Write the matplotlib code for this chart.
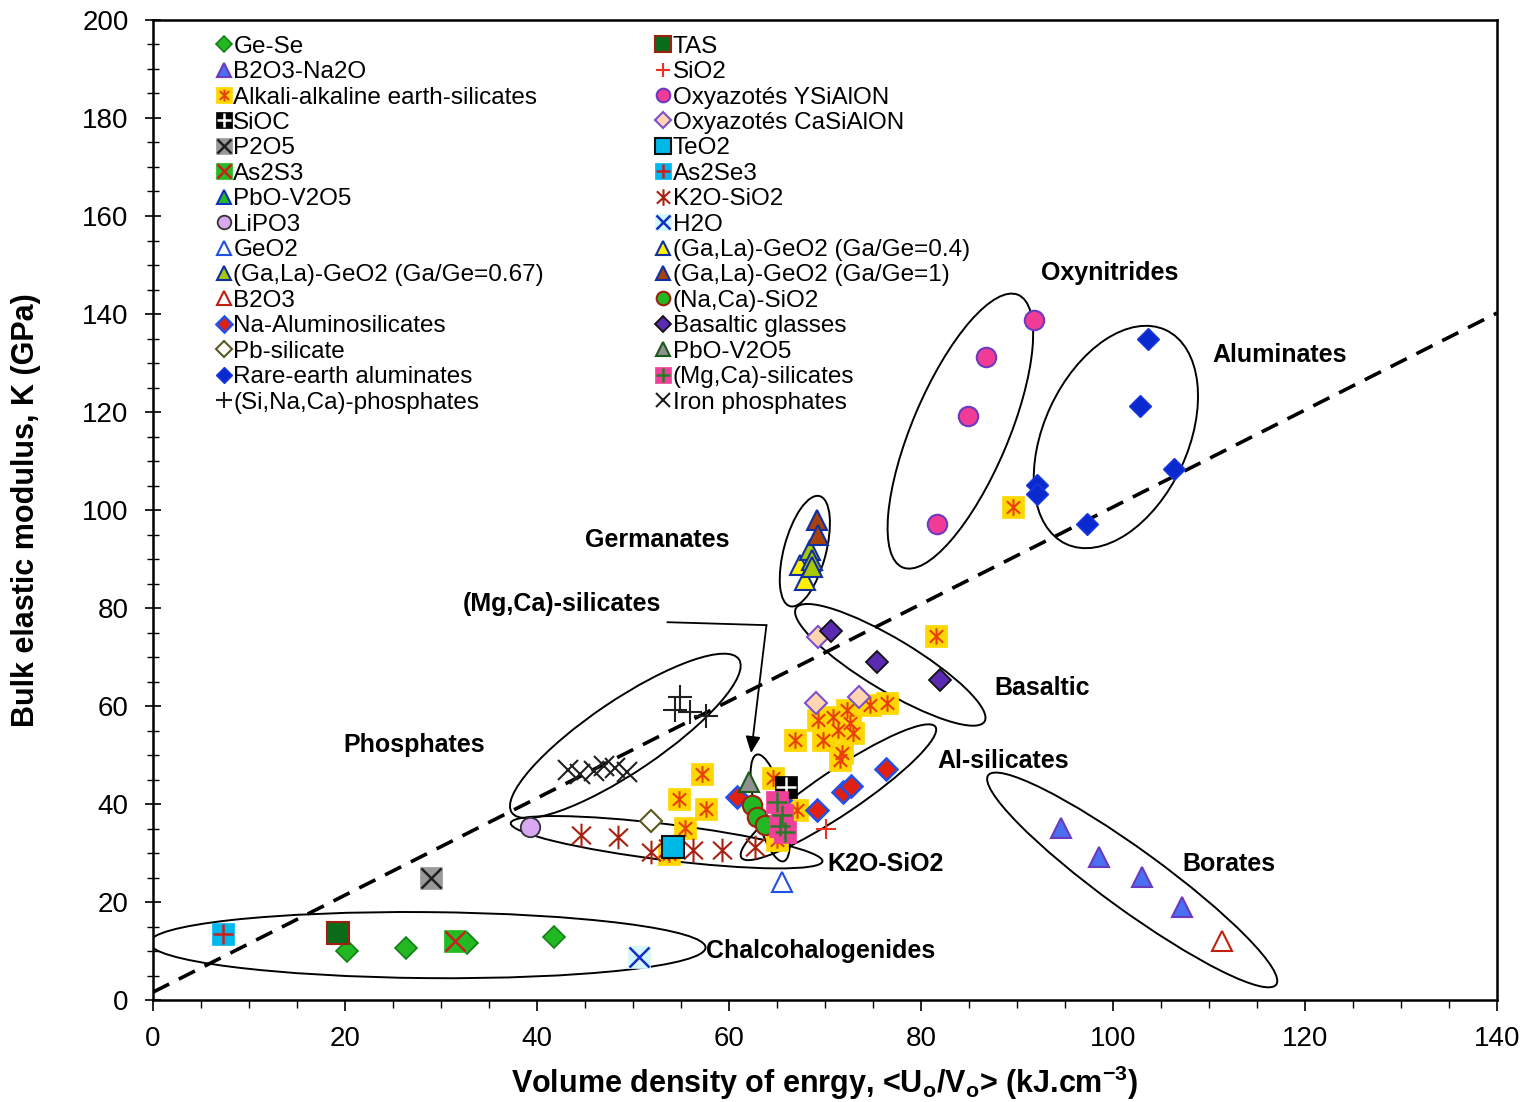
import matplotlib
matplotlib.use("Agg")
import matplotlib.pyplot as plt
from matplotlib.path import Path
from matplotlib.patches import Ellipse
from matplotlib.transforms import ScaledTranslation
from matplotlib.ticker import MultipleLocator

plt.rcParams['font.family'] = ['Liberation Sans', 'DejaVu Sans']
plt.rcParams['mathtext.fontset'] = 'custom'
plt.rcParams['mathtext.rm'] = 'Liberation Sans'
plt.rcParams['mathtext.bf'] = 'Liberation Sans:bold'

# ---------------- data ----------------
ge_se_x = [20.2, 26.4, 32.7, 41.8]
ge_se_y = [10.0, 10.6, 11.6, 12.9]
tas_x = [19.3]; tas_y = [13.7]
as2se3_x = [7.3]; as2se3_y = [13.5]
as2s3_x = [31.5]; as2s3_y = [12.0]
h2o_x = [50.6]; h2o_y = [8.8]
p2o5_x = [29.0]; p2o5_y = [24.9]
lipo3_x = [39.3]; lipo3_y = [35.3]
pbsil_x = [51.9]; pbsil_y = [36.5]
teo2_x = [54.2]; teo2_y = [31.2]
k2o_x = [44.6, 48.4, 51.9, 53.6, 56.3, 59.3, 62.7]
k2o_y = [33.7, 33.3, 30.2, 31.0, 30.6, 30.6, 31.2]
fephos_x = [43.2, 44.5, 45.9, 47.0, 48.1, 49.4]
fephos_y = [46.9, 46.1, 46.7, 47.8, 47.4, 46.5]
sinaca_x = [54.9, 54.4, 55.9, 57.6]
sinaca_y = [61.8, 59.2, 58.8, 58.0]
alk_x = [89.6, 81.6, 66.9, 57.2, 54.8, 57.6, 55.4, 53.8, 64.6, 67.1, 69.3, 69.8,
         70.8, 71.4, 71.8, 72.3, 72.6, 72.9, 74.7, 76.5, 71.6, 65.0]
alk_y = [100.6, 74.3, 53.1, 46.1, 41.0, 39.0, 35.1, 29.8, 45.3, 38.8, 57.1, 53.1,
         57.8, 55.1, 50.4, 59.2, 56.5, 54.5, 60.2, 60.6, 49.0, 32.7]
sio2_x = [70.1]; sio2_y = [34.9]
sioc_x = [65.9]; sioc_y = [43.5]
naal_x = [60.8, 69.2, 71.9, 72.7, 76.4, 65.3]
naal_y = [41.4, 38.8, 42.4, 43.7, 47.1, 40.8]
pbv_gray_x = [62.1]; pbv_gray_y = [44.5]
pbv_green_x = [65.8]; pbv_green_y = [36.0]
naca_x = [62.4, 62.9, 63.8]
naca_y = [39.8, 37.3, 35.7]
mgca_x = [65.0, 65.5, 65.3, 65.8]
mgca_y = [40.4, 37.8, 35.5, 34.3]
geo2_x = [65.5]; geo2_y = [24.1]
casialon_x = [69.3, 69.1, 73.5]
casialon_y = [74.1, 60.6, 61.8]
basalt_x = [70.6, 75.4, 82.0]
basalt_y = [75.3, 69.0, 65.3]
ysialon_x = [91.8, 86.8, 84.9, 81.7]
ysialon_y = [138.8, 131.2, 119.2, 97.1]
rea_x = [103.6, 102.8, 106.4, 92.1, 92.1, 97.3]
rea_y = [134.9, 121.2, 108.4, 105.1, 103.3, 97.1]
ga1_x = [69.2, 69.3]; ga1_y = [98.0, 94.9]
ga067_x = [68.4, 68.6, 68.6]; ga067_y = [91.8, 89.8, 88.4]
ga04_x = [67.4, 67.9]; ga04_y = [88.8, 85.7]
b2o3na_x = [94.6, 98.5, 103.0, 107.2]
b2o3na_y = [35.1, 29.2, 25.1, 19.0]
b2o3_x = [111.4]; b2o3_y = [12.0]
trend_x = [0, 140]
trend_y = [1.6, 140.2]

# group annotations: label, x, y
group_labels = ["Oxynitrides", "Aluminates", "Germanates", "(Mg,Ca)-silicates", "Basaltic",
                "Phosphates", "Al-silicates", "K2O-SiO2", "Borates", "Chalcohalogenides"]
group_lx = [99.7, 117.4, 52.5, 42.6, 92.6, 27.2, 88.6, 76.3, 112.1, 69.5]
group_ly = [148.4, 131.6, 93.9, 80.8, 63.7, 52.0, 48.8, 27.8, 27.8, 10.0]

# ellipses: centre (data) and semi-axes in pixels, screen angle
ell_cx = [84.1, 100.3, 67.9, 76.8, 49.2, 53.5, 64.3, 71.4, 102.0, 28.6]
ell_cy = [116.1, 114.9, 91.6, 68.4, 53.9, 32.2, 39.2, 42.4, 24.5, 11.2]
ell_a = [148, 118, 57, 110, 137, 157, 55, 117, 178, 278]
ell_b = [48, 72, 21, 26, 36, 18, 15, 22, 30, 33]
ell_ang = [67, 65, 75, -31, 34, -7, 104, 34, -36, -0.5]

# ---------------- figure ----------------
fig = plt.figure(figsize=(15.28, 11.02), dpi=100)
ax = fig.add_axes([153/1528, 1-1000/1102, 1344/1528, 980/1102])

ast_path = Path([(0, -1), (0, 1), (-0.8, -0.75), (0.8, 0.75), (-0.8, 0.75), (0.8, -0.75)],
                [Path.MOVETO, Path.LINETO] * 3)

def pts(x, y, **kw):
    kw.setdefault('linestyle', 'none')
    return ax.plot(x, y, **kw)[0]

MS_SQ = 15.5
MS_D = 11.5
MS_T = 14
MS_O = 14

# trend line
ax.plot(trend_x, trend_y, color='black', lw=2.6, dashes=(5, 3), zorder=2)

# ellipses
for cx, cy, a, b, ang in zip(ell_cx, ell_cy, ell_a, ell_b, ell_ang):
    tr = fig.dpi_scale_trans + ScaledTranslation(cx, cy, ax.transData)
    e = Ellipse((0, 0), 2*a/100, 2*b/100, angle=ang, transform=tr,
                fill=False, edgecolor='black', lw=1.4, zorder=3)
    ax.add_patch(e)

# series
h_alk_sq = pts(alk_x, alk_y, marker='s', ms=MS_SQ, mfc='#FFD700', mec='#FFD700', mew=0.5, zorder=4)
h_alk_as = pts(alk_x, alk_y, marker=ast_path, ms=12, mfc='none', mec='#E8400C', mew=1.5, zorder=4)
h_k2o = pts(k2o_x, k2o_y, marker=ast_path, ms=17, mfc='none', mec='#A82010', mew=1.5, zorder=4)
h_gese = pts(ge_se_x, ge_se_y, marker='D', ms=MS_D, mfc='#22B822', mec='#14801A', mew=1.2, zorder=5)
h_tas = pts(tas_x, tas_y, marker='s', ms=MS_SQ, mfc='#0A6B1A', mec='#A02010', mew=1.5, zorder=5)
h_as2se3_sq = pts(as2se3_x, as2se3_y, marker='s', ms=MS_SQ, mfc='#00B8F0', mec='#00B8F0', mew=0.5, zorder=5)
h_as2se3_p = pts(as2se3_x, as2se3_y, marker='+', ms=14, mec='#C82020', mew=1.8, zorder=5)
h_as2s3_sq = pts(as2s3_x, as2s3_y, marker='s', ms=MS_SQ, mfc='#22BB22', mec='#22BB22', mew=0.5, zorder=6)
h_as2s3_x = pts(as2s3_x, as2s3_y, marker='x', ms=14, mec='#C82020', mew=1.8, zorder=6)
h_h2o_sq = pts(h2o_x, h2o_y, marker='s', ms=MS_SQ, mfc='#D4F8FF', mec='#D4F8FF', mew=0.5, zorder=5)
h_h2o_x = pts(h2o_x, h2o_y, marker='x', ms=14, mec='#1030C0', mew=1.8, zorder=5)
h_p2o5_sq = pts(p2o5_x, p2o5_y, marker='s', ms=MS_SQ, mfc='#999999', mec='#999999', mew=0.5, zorder=5)
h_p2o5_x = pts(p2o5_x, p2o5_y, marker='x', ms=14, mec='#202020', mew=1.8, zorder=5)
h_lipo3 = pts(lipo3_x, lipo3_y, marker='o', ms=MS_O, mfc='#D8A8F0', mec='#333333', mew=1.3, zorder=5)
h_pbsil = pts(pbsil_x, pbsil_y, marker='D', ms=MS_D, mfc='white', mec='#5A5A20', mew=1.5, zorder=5)
h_fephos = pts(fephos_x, fephos_y, marker='x', ms=15, mec='#202020', mew=1.5, zorder=5)
h_sinaca = pts(sinaca_x, sinaca_y, marker='+', ms=17, mec='#202020', mew=1.5, zorder=5)
h_naal = pts(naal_x, naal_y, marker='D', ms=MS_D, mfc='#E02010', mec='#2050F0', mew=1.8, zorder=5)
h_pbvgreen = pts(pbv_green_x, pbv_green_y, marker='^', ms=MS_T, mfc='#22B822', mec='#1030C0', mew=1.5, zorder=5)
h_naca = pts(naca_x, naca_y, marker='o', ms=MS_O, mfc='#22B822', mec='#A02010', mew=1.5, zorder=6)
h_ga04 = pts(ga04_x, ga04_y, marker='^', ms=MS_T, mfc='#FFF000', mec='#1030A0', mew=1.5, zorder=5)
h_ga067 = pts(ga067_x, ga067_y, marker='^', ms=MS_T, mfc='#A8C800', mec='#1030A0', mew=1.5, zorder=6)
h_ga1 = pts(ga1_x, ga1_y, marker='^', ms=MS_T, mfc='#A8420C', mec='#1030A0', mew=1.5, zorder=7)
h_mgca_sq = pts(mgca_x, mgca_y, marker='s', ms=MS_SQ, mfc='#F0409A', mec='#F0409A', mew=0.5, zorder=7)
h_mgca_p = pts(mgca_x, mgca_y, marker='+', ms=15, mec='#2A7A2A', mew=1.8, zorder=7)
h_sioc_sq = pts(sioc_x, sioc_y, marker='s', ms=MS_SQ, mfc='black', mec='black', mew=0.5, zorder=6)
h_sioc_p = pts(sioc_x, sioc_y, marker='+', ms=14, mec='white', mew=1.8, zorder=6)
h_pbvgray = pts(pbv_gray_x, pbv_gray_y, marker='^', ms=MS_T, mfc='#909090', mec='#1A5A1A', mew=1.5, zorder=6)
h_sio2 = pts(sio2_x, sio2_y, marker='+', ms=15, mec='#F03020', mew=1.5, zorder=6)
h_teo2 = pts(teo2_x, teo2_y, marker='s', ms=MS_SQ, mfc='#00B8E8', mec='#111111', mew=1.5, zorder=8)
h_geo2 = pts(geo2_x, geo2_y, marker='^', ms=MS_T, mfc='white', mec='#2050E0', mew=1.5, zorder=5)
h_casialon = pts(casialon_x, casialon_y, marker='D', ms=MS_D, mfc='#FFD5B0', mec='#7A50D0', mew=1.5, zorder=5)
h_basalt = pts(basalt_x, basalt_y, marker='D', ms=MS_D, mfc='#5A2AB0', mec='#111111', mew=1.3, zorder=6)
h_ysialon = pts(ysialon_x, ysialon_y, marker='o', ms=MS_O, mfc='#F03C96', mec='#6A3AC0', mew=1.5, zorder=5)
h_rea = pts(rea_x, rea_y, marker='D', ms=MS_D, mfc='#0A2AD0', mec='#1A3AE0', mew=1.0, zorder=5)
h_b2o3na = pts(b2o3na_x, b2o3na_y, marker='^', ms=MS_T, mfc='#4A6FF0', mec='#6A3AC0', mew=1.5, zorder=5)
h_b2o3 = pts(b2o3_x, b2o3_y, marker='^', ms=MS_T, mfc='white', mec='#C02010', mew=1.5, zorder=5)

# legend
handles = [h_gese, h_b2o3na, (h_alk_sq, h_alk_as), (h_sioc_sq, h_sioc_p), (h_p2o5_sq, h_p2o5_x),
           (h_as2s3_sq, h_as2s3_x), h_pbvgreen, h_lipo3, h_geo2, h_ga067, h_b2o3, h_naal,
           h_pbsil, h_rea, h_sinaca,
           h_tas, h_sio2, h_ysialon, h_casialon, h_teo2, (h_as2se3_sq, h_as2se3_p), h_k2o,
           (h_h2o_sq, h_h2o_x), h_ga04, h_ga1, h_naca, h_basalt, h_pbvgray, (h_mgca_sq, h_mgca_p),
           h_fephos]
labels = ["Ge-Se", "B2O3-Na2O", "Alkali-alkaline earth-silicates", "SiOC", "P2O5", "As2S3",
          "PbO-V2O5", "LiPO3", "GeO2", "(Ga,La)-GeO2 (Ga/Ge=0.67)", "B2O3",
          "Na-Aluminosilicates", "Pb-silicate", "Rare-earth aluminates", "(Si,Na,Ca)-phosphates",
          "TAS", "SiO2", "Oxyazotés YSiAlON", "Oxyazotés CaSiAlON", "TeO2", "As2Se3",
          "K2O-SiO2", "H2O", "(Ga,La)-GeO2 (Ga/Ge=0.4)", "(Ga,La)-GeO2 (Ga/Ge=1)",
          "(Na,Ca)-SiO2", "Basaltic glasses", "PbO-V2O5", "(Mg,Ca)-silicates", "Iron phosphates"]
leg = ax.legend(handles, labels, ncol=2, loc='upper left', bbox_to_anchor=(0.048, 0.984),
                frameon=False, fontsize=17.5, markerscale=0.7, handlelength=0.5,
                handletextpad=0.15, labelspacing=0.14, columnspacing=4.65, borderaxespad=0,
                borderpad=0)

# group labels
for t, x, y in zip(group_labels, group_lx, group_ly):
    ax.text(x, y, t, fontsize=18, fontweight='bold', ha='center', va='center', zorder=9)

# arrow for (Mg,Ca)-silicates
ax.plot([53.6, 63.9], [77.1, 76.5], color='black', lw=1.3, zorder=9)
ax.annotate('', xy=(62.3, 50.4), xytext=(63.9, 76.5),
            arrowprops=dict(arrowstyle='-|>,head_length=1.0,head_width=0.45', color='black', lw=1.3,
                            shrinkA=0, shrinkB=0), zorder=9)

# axes
ax.set_xlim(0, 140)
ax.set_ylim(0, 200)
ax.xaxis.set_major_locator(MultipleLocator(20))
ax.xaxis.set_minor_locator(MultipleLocator(5))
ax.yaxis.set_major_locator(MultipleLocator(20))
ax.yaxis.set_minor_locator(MultipleLocator(5))
ax.tick_params(axis='x', which='major', direction='out', length=8, width=1.2, labelsize=20, pad=11)
ax.tick_params(axis='x', which='minor', direction='out', length=6, width=1.0)
ax.tick_params(axis='y', which='major', direction='inout', length=11, width=1.2, labelsize=20, pad=12)
ax.tick_params(axis='y', which='minor', direction='inout', length=8, width=1.0)
for s in ax.spines.values():
    s.set_linewidth(1.8)

ax.set_ylabel('Bulk elastic modulus, K (GPa)', fontsize=22, fontweight='bold')
ax.yaxis.set_label_coords(-0.083, 0.5)
ax.set_xlabel(r'Volume density of enrgy, <U$_{\bf o}$/V$_{\bf o}$> (kJ.cm$^{\mathbf{{-}3}}$)',
              fontsize=22, fontweight='bold', labelpad=8)

fig.savefig('out.png', dpi=100)
